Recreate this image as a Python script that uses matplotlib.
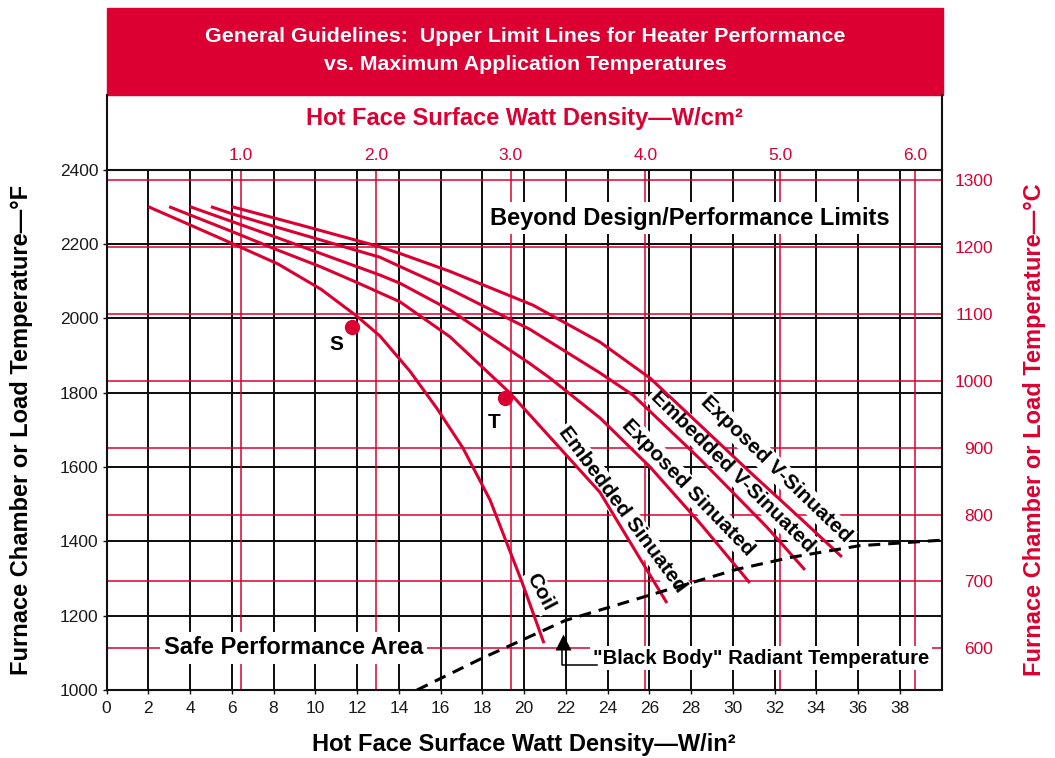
import matplotlib
matplotlib.use('Agg')
import matplotlib.pyplot as plt
from matplotlib import font_manager as fm
from matplotlib.lines import Line2D
from matplotlib.patches import Rectangle

RED = '#DC0032'
W = 1055.0
H = 758.0

# ---------------- data ----------------
coil_x = [2.0, 4.0, 6.06, 8.21, 10.27, 12.0, 13.1, 14.54, 15.83, 17.07, 18.37, 19.9, 20.95]
coil_t = [2300, 2251, 2200, 2146, 2078, 2005, 1952, 1857, 1757, 1651, 1511, 1290, 1126]

emb_sin_x = [3.0, 6.06, 8.21, 10.27, 12.0, 14.06, 16.45, 19.32, 23.63, 26.17, 26.84]
emb_sin_t = [2300, 2232, 2183, 2138, 2096, 2044, 1950, 1799, 1532, 1296, 1234]

exp_sin_x = [4.0, 6.06, 8.21, 13.1, 14.06, 16.45, 20.28, 21.24, 23.63, 26.03, 28.42, 30.81]
exp_sin_t = [2300, 2259, 2216, 2116, 2094, 2022, 1878, 1839, 1732, 1600, 1449, 1288]

emb_v_x = [5.0, 6.06, 8.21, 13.1, 14.06, 16.45, 20.28, 23.63, 25.22, 28.43, 31.63, 33.45]
emb_v_t = [2300, 2280, 2244, 2164, 2139, 2078, 1970, 1853, 1793, 1621, 1438, 1323]

exp_v_x = [6.0, 9.27, 13.1, 14.06, 16.45, 20.43, 23.63, 26.03, 28.42, 30.82, 33.21, 35.22]
exp_v_t = [2300, 2251, 2192, 2174, 2126, 2035, 1936, 1839, 1713, 1586, 1463, 1358]

bb_x = [14.87, 17.93, 21.97, 26.18, 30.22, 32.81, 36.05, 40.0]
bb_t = [1000, 1084, 1187, 1258, 1325, 1357, 1388, 1403]

s_point = (11.76, 1976)
t_point = (19.09, 1785)

x_ticks = list(range(0, 40, 2))
f_ticks = list(range(1000, 2401, 200))
cm_ticks = [1.0, 2.0, 3.0, 4.0, 5.0, 6.0]
c_ticks = [600, 700, 800, 900, 1000, 1100, 1200, 1300]

IN_PER_CM2 = 6.4516


def cm2_to_in2(v):
    return v * IN_PER_CM2


def in2_to_cm2(v):
    return v / IN_PER_CM2


def f_to_c(f):
    return (f - 32.0) * 5.0 / 9.0


def c_to_f(c):
    return c * 9.0 / 5.0 + 32.0


# ---------------- fonts ----------------
names = {f.name for f in fm.fontManager.ttflist}
BOLD = 'Liberation Sans' if 'Liberation Sans' in names else 'DejaVu Sans'
NARROW = 'Liberation Sans Narrow' in names
TICKFONT = 'Liberation Sans Narrow' if NARROW else BOLD
TICKSIZE = 14 if NARROW else 12.5
plt.rcParams['font.family'] = [BOLD, 'DejaVu Sans']

# ---------------- figure ----------------
fig = plt.figure(figsize=(W / 100, H / 100), dpi=100)
x0, x1 = 106.5, 941.7
y_top, y_bot = 169.5, 690.0
ax = fig.add_axes([x0 / W, 1 - y_bot / H, (x1 - x0) / W, (y_bot - y_top) / H])
ax.set_xlim(0, 40)
ax.set_ylim(1000, 2400)

# grid
for xv in x_ticks[1:]:
    ax.axvline(xv, color='#111111', lw=1.45, zorder=1)
for fv in f_ticks[1:-1]:
    ax.axhline(fv, color='#111111', lw=1.45, zorder=1)
for cv in cm_ticks:
    ax.axvline(cm2_to_in2(cv), color=RED, lw=1.1, zorder=1.2)
for cv in c_ticks:
    ax.axhline(c_to_f(cv), color=RED, lw=1.1, zorder=1.2)

for sp in ax.spines.values():
    sp.set_color('#111111')
    sp.set_linewidth(1.5)

# curves
curve_kw = dict(color=RED, lw=2.2, solid_capstyle='butt', solid_joinstyle='round', zorder=4)
ax.plot(coil_x, coil_t, **curve_kw)
ax.plot(emb_sin_x, emb_sin_t, **curve_kw)
ax.plot(exp_sin_x, exp_sin_t, **curve_kw)
ax.plot(emb_v_x, emb_v_t, **curve_kw)
ax.plot(exp_v_x, exp_v_t, **curve_kw)

# black-body line
ax.plot(bb_x, bb_t, color='black', lw=2.2, dashes=(3.9, 2.6), zorder=5)

# points
ax.plot([s_point[0]], [s_point[1]], 'o', color=RED, ms=11, mec='none', zorder=6)
ax.plot([t_point[0]], [t_point[1]], 'o', color=RED, ms=11, mec='none', zorder=6)
ax.text(10.99, 1930, 'S', fontsize=15, weight='bold', ha='center', va='center', zorder=6)
ax.text(18.56, 1720, 'T', fontsize=15, weight='bold', ha='center', va='center', zorder=6)

box = dict(facecolor='white', edgecolor='none', pad=3)
ax.text(27.95, 2269, 'Beyond Design/Performance Limits', fontsize=17, weight='bold',
        ha='center', va='center', bbox=box, zorder=3)
ax.text(8.96, 1113, 'Safe Performance Area', fontsize=17, weight='bold',
        ha='center', va='center', bbox=box, zorder=3)

lbl_box = dict(facecolor='white', edgecolor='none', pad=1.5)
curve_labels = [
    ('Coil', 20.76, 1264, -62),
    ('Embedded Sinuated', 24.69, 1484, -53.5),
    ('Exposed Sinuated', 27.85, 1543, -46),
    ('Embedded V-Sinuated', 30.0, 1589, -44.5),
    ('Exposed V-Sinuated', 32.06, 1594, -44),
]
for txt, lx, ly, rot in curve_labels:
    ax.text(lx, ly, txt, fontsize=15, weight='bold', ha='center', va='center',
            rotation=rot, rotation_mode='anchor', bbox=lbl_box, zorder=3)

# black body annotation
ax.text(23.3, 1086, '"Black Body" Radiant Temperature', fontsize=14.6, weight='bold',
        ha='left', va='center', bbox=dict(facecolor='white', edgecolor='none', pad=2), zorder=3)
ax.plot([21.8, 21.8, 23.5], [1108, 1066, 1066], color='black', lw=1.1, zorder=3.5)
ax.plot([21.86], [1130], marker='^', color='black', ms=12, mec='none', zorder=6)

# axes ticks / labels
ax.set_xticks(x_ticks)
ax.set_yticks(f_ticks)
ax.tick_params(axis='both', length=3, width=1, color='#111111', labelcolor='#1a1a1a',
               labelsize=TICKSIZE)
ax.tick_params(axis='x', pad=5)
ax.tick_params(axis='y', pad=3)
for lab in ax.get_xticklabels() + ax.get_yticklabels():
    lab.set_family(TICKFONT)

ax.set_xlabel('Hot Face Surface Watt Density\u2014W/in\u00b2', fontsize=17, weight='bold')
ax.xaxis.set_label_coords(0.5, (y_bot - 745) / (y_bot - y_top))
ax.xaxis.label.set_va('center')
ax.set_ylabel('Furnace Chamber or Load Temperature\u2014\u00b0F', fontsize=17, weight='bold')
ax.yaxis.set_label_coords((22 - x0) / (x1 - x0), 0.5)
ax.yaxis.label.set_va('center')

secx = ax.secondary_xaxis('top', functions=(in2_to_cm2, cm2_to_in2))
secx.set_xticks(cm_ticks)
secx.set_xticklabels([f'{v:.1f}' for v in cm_ticks])
secx.tick_params(length=0, pad=5, labelcolor=RED, labelsize=TICKSIZE)
for lab in secx.get_xticklabels():
    lab.set_family(TICKFONT)
secx.spines['top'].set_visible(False)
ax.text(0.5, (y_bot - 119) / (y_bot - y_top), 'Hot Face Surface Watt Density\u2014W/cm\u00b2',
        transform=ax.transAxes, fontsize=17, weight='bold', color=RED,
        ha='center', va='center')

secy = ax.secondary_yaxis('right', functions=(f_to_c, c_to_f))
secy.set_yticks(c_ticks)
secy.set_yticklabels([str(v) for v in c_ticks])
secy.tick_params(length=0, pad=37, labelcolor=RED, labelsize=TICKSIZE)
for lab in secy.get_yticklabels():
    lab.set_family(TICKFONT)
    lab.set_ha('right')
secy.spines['right'].set_visible(False)
ax.text((1034 - x0) / (x1 - x0), 0.5, 'Furnace Chamber or Load Temperature\u2014\u00b0C',
        transform=ax.transAxes, fontsize=17, weight='bold', color=RED,
        rotation=90, ha='center', va='center')

# frame extension and title bar
for xp in (x0, x1):
    fig.add_artist(Line2D([xp / W, xp / W], [1 - y_top / H, 1 - 95 / H],
                          transform=fig.transFigure, color='#111111', lw=1.5))
fig.add_artist(Rectangle((107 / W, 1 - 95 / H), (943 - 107) / W, 87 / H,
                         transform=fig.transFigure, color=RED, zorder=0))
fig.text(525 / W, 1 - 36 / H, 'General Guidelines:  Upper Limit Lines for Heater Performance',
         color='white', weight='bold', fontsize=15.4, ha='center', va='center')
fig.text(525 / W, 1 - 65 / H, 'vs. Maximum Application Temperatures',
         color='white', weight='bold', fontsize=15.4, ha='center', va='center')

fig.savefig('out.png', dpi=100)
